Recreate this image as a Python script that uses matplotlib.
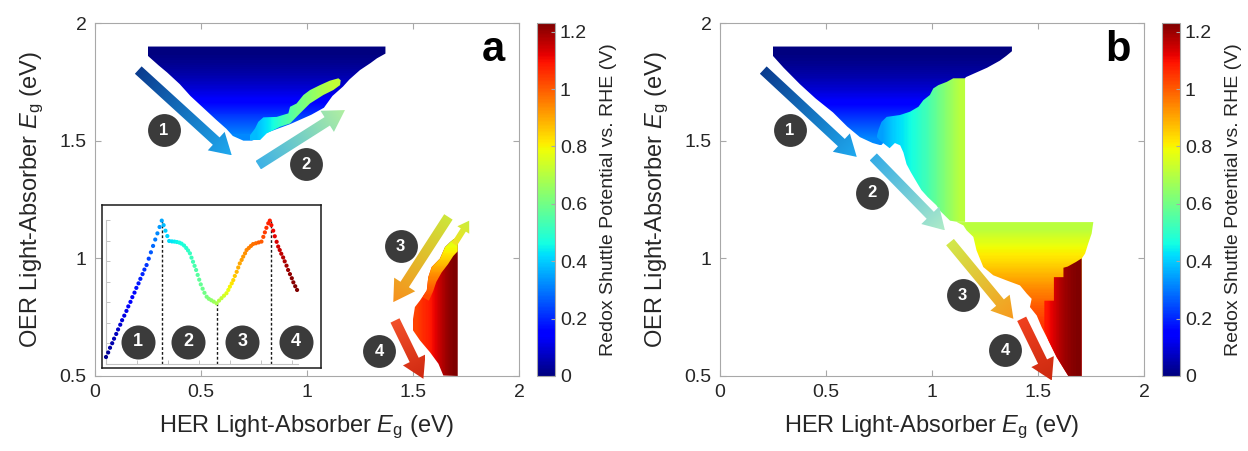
import numpy as np
import matplotlib
matplotlib.use("Agg")
import matplotlib.pyplot as plt
from matplotlib.patches import Polygon
from matplotlib.colors import Normalize, LinearSegmentedColormap
from matplotlib.cm import ScalarMappable

plt.rcParams["font.family"] = ["Liberation Sans", "DejaVu Sans"]
plt.rcParams["mathtext.fontset"] = "custom"
plt.rcParams["mathtext.rm"] = "Liberation Sans"
plt.rcParams["mathtext.it"] = "Liberation Sans:italic"

# ---- axes / colorbar ----
x_ticks = [0, 0.5, 1, 1.5, 2]
x_tick_labels = ["0", "0.5", "1", "1.5", "2"]
y_ticks = [0.5, 1, 1.5, 2]
y_tick_labels = ["0.5", "1", "1.5", "2"]
cbar_max = 1.23
cbar_ticks = [0, 0.2, 0.4, 0.6, 0.8, 1.0, 1.2]
cbar_tick_labels = ["0", "0.2", "0.4", "0.6", "0.8", "1", "1.2"]

# ---- panel a regions (HER Eg, OER Eg) ----
a_blue_poly = [(0.25, 1.90), (1.37, 1.90), (1.37, 1.87), (1.33, 1.85), (1.30, 1.83), (1.25, 1.80),
               (1.20, 1.76), (1.17, 1.73), (1.12, 1.69), (1.08, 1.64), (1.02, 1.61), (0.97, 1.59),
               (0.92, 1.57), (0.86, 1.55), (0.80, 1.53), (0.77, 1.51), (0.74, 1.50), (0.70, 1.50),
               (0.65, 1.52), (0.62, 1.55), (0.57, 1.59), (0.51, 1.64), (0.45, 1.69), (0.40, 1.74),
               (0.34, 1.79), (0.30, 1.82), (0.25, 1.86)]
a_blue_levels = [0.0, 0.02, 0.05, 0.09, 0.14, 0.20, 0.26, 0.32]  # top -> bottom

a_strip_poly = [(1.148, 1.765), (1.108, 1.755), (1.061, 1.736), (1.014, 1.715), (0.983, 1.694),
                (0.951, 1.658), (0.920, 1.644), (0.912, 1.616), (0.857, 1.601), (0.794, 1.599),
                (0.770, 1.580), (0.755, 1.552), (0.731, 1.523), (0.731, 1.502), (0.778, 1.502),
                (0.810, 1.531), (0.873, 1.559), (0.920, 1.573), (0.967, 1.616), (1.014, 1.658),
                (1.077, 1.694), (1.124, 1.715), (1.156, 1.736), (1.159, 1.757)]
a_strip_levels = [0.38, 0.44, 0.52, 0.58, 0.63, 0.68, 0.72]  # left -> right

a_red_poly = [(1.711, 0.50), (1.711, 1.09), (1.69, 1.08), (1.675, 1.069), (1.651, 1.048),
              (1.627, 0.999), (1.588, 0.963), (1.572, 0.920), (1.565, 0.864), (1.533, 0.821),
              (1.509, 0.793), (1.499, 0.736), (1.500, 0.694), (1.533, 0.651), (1.580, 0.601),
              (1.620, 0.552), (1.643, 0.502)]
a_red_levels = [1.03, 1.06, 1.08, 1.12, 1.17, 1.21, 1.23]  # left -> right

a_warm_poly = [(1.711, 1.095), (1.69, 1.08), (1.675, 1.069), (1.651, 1.048), (1.627, 0.999),
               (1.588, 0.963), (1.572, 0.920), (1.565, 0.864), (1.545, 0.835), (1.575, 0.82),
               (1.595, 0.86), (1.61, 0.90), (1.635, 0.94), (1.665, 0.975), (1.69, 1.01), (1.711, 1.03)]
a_warm_levels = [0.76, 0.81, 0.87, 0.93, 0.98, 1.02]  # top -> bottom

# ---- panel b regions ----
b_blue_poly = [(0.25, 1.90), (1.377, 1.90), (1.377, 1.88), (1.35, 1.86), (1.32, 1.84), (1.26, 1.81),
               (1.21, 1.79), (1.16, 1.77), (1.10, 1.70), (0.95, 1.60), (0.80, 1.52), (0.76, 1.48),
               (0.72, 1.49), (0.66, 1.515), (0.60, 1.56), (0.533, 1.62), (0.45, 1.68), (0.377, 1.74),
               (0.30, 1.81), (0.25, 1.86)]
b_blue_levels = [0.0, 0.02, 0.05, 0.09, 0.14, 0.20, 0.26, 0.32]

b_green_poly = [(1.156, 1.765), (1.10, 1.765), (1.07, 1.75), (1.03, 1.736), (1.006, 1.722),
                (0.99, 1.694), (0.959, 1.672), (0.936, 1.644), (0.896, 1.623), (0.849, 1.609),
                (0.786, 1.601), (0.762, 1.58), (0.747, 1.545), (0.739, 1.516), (0.755, 1.50),
                (0.80, 1.468), (0.825, 1.49), (0.85, 1.48), (0.865, 1.45), (0.88, 1.40),
                (0.90, 1.366), (0.93, 1.32), (0.95, 1.29), (0.98, 1.26), (1.02, 1.226),
                (1.04, 1.20), (1.085, 1.16), (1.12, 1.155), (1.156, 1.155)]
b_green_levels = [0.35, 0.40, 0.44, 0.48, 0.53, 0.59, 0.65, 0.71]  # left -> right

b_warm_poly = [(1.117, 1.154), (1.761, 1.154), (1.753, 1.105), (1.737, 1.063), (1.722, 1.02),
               (1.706, 0.999), (1.706, 0.50), (1.643, 0.50), (1.627, 0.523), (1.588, 0.58),
               (1.549, 0.651), (1.517, 0.708), (1.494, 0.757), (1.462, 0.793), (1.47, 0.828),
               (1.447, 0.85), (1.415, 0.885), (1.352, 0.906), (1.289, 0.928), (1.242, 0.963),
               (1.21, 1.034), (1.195, 1.091), (1.163, 1.119), (1.148, 1.14)]
b_warm_levels = [0.71, 0.78, 0.83, 0.89, 0.95, 1.00, 1.04, 1.07, 1.09, 1.10]  # top -> bottom

b_dark_poly = [(1.706, 1.0), (1.68, 0.985), (1.64, 0.965), (1.62, 0.96), (1.62, 0.92), (1.575, 0.92),
               (1.575, 0.82), (1.53, 0.82), (1.53, 0.70), (1.549, 0.651), (1.588, 0.58),
               (1.627, 0.523), (1.643, 0.50), (1.706, 0.50)]
b_dark_levels = [1.09, 1.13, 1.17, 1.20, 1.22, 1.23]  # left -> right

# ---- arrows: (start, tip), colours (start, tip) ----
a_arrows = [((0.204, 1.80), (0.645, 1.438)), ((0.770, 1.396), (1.179, 1.63)),
            ((1.667, 1.176), (1.407, 0.814)), ((1.415, 0.736), (1.549, 0.488))]
a_arrow_colors = [("#0a3c8f", "#1fa9ef"), ("#3fb2e6", "#b2f0a0"),
                  ("#cde63a", "#f7901c"), ("#f2502a", "#cf2810")]
a_small_arrow = ((1.695, 1.06), (1.765, 1.16))
b_arrows = [((0.204, 1.80), (0.645, 1.431)), ((0.723, 1.431), (1.061, 1.119)),
            ((1.085, 1.069), (1.384, 0.743)), ((1.423, 0.743), (1.565, 0.481))]
b_arrow_colors = [("#0a3c8f", "#1fa9ef"), ("#35ace6", "#b0ecc8"),
                  ("#d2e84a", "#f79a1e"), ("#f0401f", "#cc2a10")]

step_labels = ["1", "2", "3", "4"]
a_circles = [(0.325, 1.545), (0.995, 1.399), (1.442, 1.051), (1.341, 0.606)]
b_circles = [(0.330, 1.545), (0.715, 1.278), (1.145, 0.843), (1.344, 0.609)]

# ---- inset curve ----
inset_x = [0.00, 0.07, 0.13, 0.20, 0.26, 0.33, 0.39, 0.46, 0.52, 0.59, 0.66, 0.72, 0.79, 0.85, 0.92,
           0.98, 1.05, 1.11, 1.18, 1.24, 1.31,
           1.38, 1.45, 1.52, 1.59, 1.66, 1.73, 1.80,
           1.86, 1.92, 1.98, 2.04,
           2.13, 2.21, 2.29, 2.37, 2.44,
           2.52, 2.59, 2.65, 2.71, 2.76, 2.81, 2.86, 2.91, 2.96, 3.01, 3.06, 3.12, 3.18, 3.25,
           3.32, 3.40, 3.48, 3.57,
           3.65, 3.73, 3.81, 3.89, 3.95, 4.00, 4.06, 4.11, 4.16, 4.22, 4.27, 4.32, 4.38, 4.43,
           4.49, 4.54, 4.61, 4.68, 4.75, 4.84, 4.93, 5.02,
           5.08, 5.13, 5.18, 5.24, 5.29,
           5.34, 5.40, 5.45, 5.51, 5.56, 5.61, 5.66, 5.72, 5.77, 5.83, 5.88, 5.94, 6.00, 6.05,
           6.11, 6.17]
inset_y = [0.34, 0.56, 0.79, 1.01, 1.23, 1.46, 1.68, 1.91, 2.13, 2.35, 2.58, 2.80, 3.02, 3.25, 3.47,
           3.70, 3.92, 4.14, 4.37, 4.59, 4.81,
           5.12, 5.43, 5.74, 6.05, 6.35, 6.66, 6.97,
           6.75, 6.48, 6.22, 5.98,
           5.96, 5.95, 5.93, 5.90, 5.85,
           5.76, 5.64, 5.52, 5.38, 5.17, 4.97, 4.77, 4.57, 4.33, 4.10, 3.87, 3.66, 3.46, 3.27,
           3.17, 3.10, 3.03, 2.95,
           3.08, 3.20, 3.32, 3.44, 3.60, 3.76, 3.92, 4.08, 4.28, 4.48, 4.69, 4.89, 5.06, 5.22,
           5.38, 5.54, 5.64, 5.74, 5.83, 5.87, 5.91, 5.95,
           6.18, 6.40, 6.62, 6.84, 6.97,
           6.75, 6.48, 6.21, 5.94, 5.71, 5.54, 5.36, 5.18, 4.99, 4.78, 4.57, 4.37, 4.17, 3.97,
           3.78, 3.60]
inset_v = [0.02, 0.03, 0.04, 0.05, 0.06, 0.07, 0.08, 0.09, 0.10, 0.11, 0.12, 0.13, 0.14, 0.15, 0.16,
           0.17, 0.18, 0.19, 0.20, 0.21, 0.22,
           0.24, 0.26, 0.28, 0.30, 0.32, 0.34, 0.36,
           0.38, 0.40, 0.41, 0.42,
           0.43, 0.44, 0.45, 0.46, 0.47,
           0.48, 0.49, 0.50, 0.51, 0.52, 0.53, 0.54, 0.55, 0.56, 0.57, 0.58, 0.59, 0.60, 0.61,
           0.62, 0.64, 0.66, 0.68,
           0.70, 0.72, 0.74, 0.76, 0.78, 0.80, 0.82, 0.84, 0.86, 0.88, 0.89, 0.90, 0.91, 0.92,
           0.93, 0.94, 0.95, 0.96, 0.97, 0.98, 0.99, 1.00,
           1.02, 1.04, 1.06, 1.07, 1.08,
           1.10, 1.11, 1.12, 1.13, 1.14, 1.15, 1.16, 1.17, 1.18, 1.19, 1.20, 1.21, 1.22, 1.22,
           1.23, 1.23]
inset_div_x = [1.81, 3.57, 5.32]
inset_div_top = [6.97, 2.95, 6.97]
inset_circle_x = [1.02, 2.66, 4.40, 6.13]
inset_circle_y = 1.09

# ---------------------------------------------------------------
W, H = 1248, 451
fig = plt.figure(figsize=(W / 100, H / 100), dpi=100)
jet = plt.get_cmap("jet")
norm = Normalize(0, cbar_max)
GRAY = "#a8a8a8"


def px_box(left, top, right, bottom):
    return [left / W, (H - bottom) / H, (right - left) / W, (bottom - top) / H]


def grad_fill(ax, verts, levels, axis):
    poly = Polygon(verts, closed=True, fc="none", ec="none")
    ax.add_patch(poly)
    xs = [v[0] for v in verts]
    ys = [v[1] for v in verts]
    arr = np.array([levels]) if axis == "x" else np.array(levels)[:, None]
    im = ax.imshow(arr, cmap=jet, norm=norm, extent=(min(xs), max(xs), min(ys), max(ys)),
                   origin="upper", aspect="auto", interpolation="bilinear", zorder=1)
    im.set_clip_path(poly)


def grad_arrow(ax, p0, p1, c0, c1, shaft=10, head_w=25, head_l=21):
    T = ax.transData
    a = T.transform(p0)
    b = T.transform(p1)
    d = b - a
    L = np.hypot(*d)
    u = d / L
    n = np.array([-u[1], u[0]])
    base = b - u * head_l
    pts = np.array([a + n * shaft / 2, base + n * shaft / 2, base + n * head_w / 2, b,
                    base - n * head_w / 2, base - n * shaft / 2, a - n * shaft / 2])
    verts = T.inverted().transform(pts)
    poly = Polygon(verts, closed=True, fc="none", ec="none", clip_on=False)
    ax.add_patch(poly)
    x0, y0 = verts.min(0)
    x1, y1 = verts.max(0)
    gx, gy = np.meshgrid(np.linspace(x0, x1, 90), np.linspace(y0, y1, 90))
    disp = T.transform(np.column_stack([gx.ravel(), gy.ravel()]))
    t = np.clip(((disp - a) @ u) / L, 0, 1).reshape(gx.shape)
    cm = LinearSegmentedColormap.from_list("g", [c0, c1])
    im = ax.imshow(t, cmap=cm, vmin=0, vmax=1, extent=(x0, x1, y0, y1), origin="lower",
                   aspect="auto", interpolation="bilinear", zorder=3)
    im.set_clip_path(poly)
    im.set_clip_box(fig.bbox)


def steps(ax, centers, size=560, fs=12):
    for (cx, cy), lab in zip(centers, step_labels):
        ax.scatter([cx], [cy], s=size, c="#3b3b3b", zorder=4, clip_on=False, linewidths=0)
        ax.text(cx, cy, lab, color="white", fontsize=fs, fontweight="bold",
                ha="center", va="center", zorder=5)


def setup_main(ax, letter):
    ax.set_xlim(0, 2)
    ax.set_ylim(0.5, 2)
    ax.set_autoscale_on(False)
    ax.set_xticks(x_ticks, x_tick_labels)
    ax.set_yticks(y_ticks, y_tick_labels)
    ax.tick_params(direction="in", length=4, width=0.8, color=GRAY, labelsize=14,
                   top=True, right=True, labelcolor="#262626", pad=6)
    for s in ax.spines.values():
        s.set_color(GRAY)
        s.set_linewidth(0.8)
    ax.set_xlabel("HER Light-Absorber $E_{\\mathrm{g}}$ (eV)", fontsize=17, color="#262626",
                  labelpad=9)
    ax.set_ylabel("OER Light-Absorber $E_{\\mathrm{g}}$ (eV)", fontsize=17, color="#262626",
                  labelpad=10)
    ax.text(1.877, 1.885, letter, fontsize=30, fontweight="bold", ha="center", va="center")


def add_cbar(box):
    cax = fig.add_axes(box)
    cb = fig.colorbar(ScalarMappable(norm=norm, cmap=jet), cax=cax)
    cb.set_ticks(cbar_ticks, labels=cbar_tick_labels)
    cb.outline.set_edgecolor(GRAY)
    cax.tick_params(direction="in", length=3, color=GRAY, labelsize=14, labelcolor="#262626")
    cb.set_label("Redox Shuttle Potential vs. RHE (V)", fontsize=14, labelpad=9,
                 color="#262626")


# panel a
ax_a = fig.add_axes(px_box(95, 23, 519, 376))
setup_main(ax_a, "a")
grad_fill(ax_a, a_blue_poly, a_blue_levels, "y")
grad_fill(ax_a, a_strip_poly, a_strip_levels, "x")
grad_fill(ax_a, a_red_poly, a_red_levels, "x")
grad_fill(ax_a, a_warm_poly, a_warm_levels, "y")
for (p0, p1), (c0, c1) in zip(a_arrows, a_arrow_colors):
    grad_arrow(ax_a, p0, p1, c0, c1)
grad_arrow(ax_a, a_small_arrow[0], a_small_arrow[1], "#f2e21e", "#c8ee40",
           shaft=6, head_w=14, head_l=11)
steps(ax_a, a_circles)
add_cbar(px_box(537, 23, 555, 376))

# panel b
ax_b = fig.add_axes(px_box(720, 23, 1144, 376))
setup_main(ax_b, "b")
grad_fill(ax_b, b_blue_poly, b_blue_levels, "y")
grad_fill(ax_b, b_green_poly, b_green_levels, "x")
grad_fill(ax_b, b_warm_poly, b_warm_levels, "y")
grad_fill(ax_b, b_dark_poly, b_dark_levels, "x")
for (p0, p1), (c0, c1) in zip(b_arrows, b_arrow_colors):
    grad_arrow(ax_b, p0, p1, c0, c1)
steps(ax_b, b_circles)
add_cbar(px_box(1162, 23, 1180, 376))

# inset in panel a
ax_box = fig.add_axes(px_box(102, 205, 321, 368))
ax_box.set_xticks([])
ax_box.set_yticks([])
for s in ax_box.spines.values():
    s.set_color("#1a1a1a")
    s.set_linewidth(1.1)

ax_in = fig.add_axes(px_box(106, 220, 298, 364))
ax_in.set_facecolor("none")
ax_in.set_xlim(0, 6.2)
ax_in.set_ylim(0, 7)
ax_in.set_xticks(range(0, 7))
ax_in.set_yticks(range(1, 8))
ax_in.tick_params(direction="in", length=3, width=0.7, color="#c4c4c4",
                  labelbottom=False, labelleft=False)
ax_in.spines["top"].set_visible(False)
ax_in.spines["right"].set_visible(False)
for side in ("left", "bottom"):
    ax_in.spines[side].set_color("#c4c4c4")
    ax_in.spines[side].set_linewidth(0.8)
for xd, yt in zip(inset_div_x, inset_div_top):
    ax_in.plot([xd, xd], [0, yt], ls=(0, (2, 1.5)), color="#1a1a1a", lw=1.0, zorder=2)
ax_in.scatter(inset_x, inset_y, c=inset_v, cmap=jet, norm=norm, s=9, linewidths=0,
              zorder=3, clip_on=False)
steps(ax_in, [(cx, inset_circle_y) for cx in inset_circle_x], size=600, fs=13)

fig.savefig("out.png", dpi=100)
